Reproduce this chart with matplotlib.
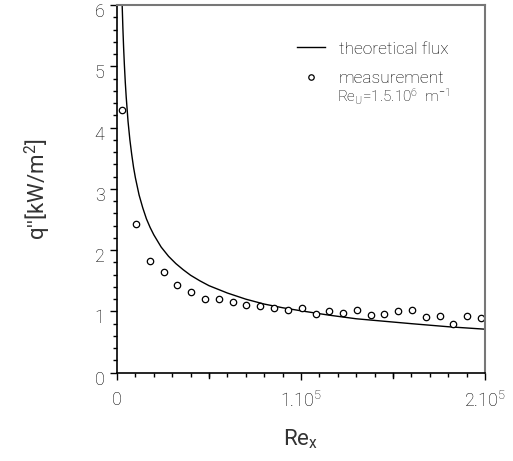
import matplotlib
matplotlib.use("Agg")
import matplotlib.pyplot as plt
import matplotlib.transforms as mtransforms
from matplotlib.ticker import MultipleLocator, FixedLocator

plt.rcParams["font.family"] = ["Roboto", "DejaVu Sans"]
plt.rcParams["font.weight"] = "light"
plt.rcParams["mathtext.default"] = "regular"

# measured heat flux along the plate
re_meas = [2900, 10300, 17900, 25400, 32800, 40400, 48000, 55400, 62900,
           70300, 77900, 85300, 92900, 100400, 108000, 115400, 122800,
           130400, 137900, 145300, 152900, 160300, 167900, 175400, 182800,
           190400, 197800]
q_meas = [4.29, 2.43, 1.82, 1.64, 1.43, 1.31, 1.21, 1.21, 1.15, 1.10, 1.09,
          1.05, 1.02, 1.05, 0.95, 1.01, 0.97, 1.03, 0.94, 0.96, 1.00, 1.02,
          0.91, 0.92, 0.79, 0.93, 0.90]

# theoretical flux curve
re_theory = [2800, 3200, 3600, 4000, 4500, 5000, 6000, 7000, 8000, 9000,
             10000, 12000, 14000, 16000, 18000, 20000, 24000, 28000, 32000,
             36000, 40000, 45000, 50000, 60000, 70000, 80000, 90000, 100000,
             115000, 130000, 145000, 160000, 180000, 200000]
q_theory = [6.01, 5.62, 5.30, 5.03, 4.74, 4.50, 4.10, 3.80, 3.56, 3.35,
            3.18, 2.90, 2.69, 2.51, 2.37, 2.25, 2.05, 1.90, 1.78, 1.68,
            1.59, 1.50, 1.42, 1.30, 1.20, 1.12, 1.06, 1.01, 0.94, 0.88,
            0.84, 0.80, 0.75, 0.71]

x_ticks = [0, 100000, 200000]
x_ticklabels = ["0", "1.10$^5$", "2.10$^5$"]

text_col = "black"

fig = plt.figure(figsize=(5.13, 4.61), dpi=100)
ax = fig.add_axes([117 / 513, 1 - 372.7 / 461, 368 / 513, 367.7 / 461])

ax.plot(re_theory, q_theory, color="black", lw=1.0, label="theoretical flux")
ax.plot(re_meas, q_meas, linestyle="none", marker="o", ms=4.6,
        mfc="white", mec="black", mew=0.9, label="measurement")

ax.set_xlim(0, 200000)
ax.set_ylim(0, 6)

ax.xaxis.set_major_locator(FixedLocator(x_ticks))
ax.set_xticklabels(x_ticklabels)
ax.xaxis.set_minor_locator(MultipleLocator(10000))
ax.yaxis.set_major_locator(MultipleLocator(1))
ax.yaxis.set_minor_locator(MultipleLocator(0.2))

# longer ticks at the half way marks on x
for xv in [50000, 150000]:
    ax.plot([xv, xv], [0, -0.08], color="black", lw=1.0, clip_on=False)

ax.tick_params(which="major", direction="out", length=5, width=1.0,
               labelsize=13, labelcolor=text_col, pad=4)
ax.tick_params(which="minor", direction="out", length=3, width=1.0)
ax.tick_params(axis="x", which="major", pad=8)

# nudge y tick labels slightly downward
shift = mtransforms.ScaledTranslation(0, -0.05, fig.dpi_scale_trans)
for lbl in ax.get_yticklabels():
    lbl.set_transform(lbl.get_transform() + shift)

for side in ["top", "right"]:
    ax.spines[side].set_color("#777777")
    ax.spines[side].set_linewidth(1.5)
for side in ["left", "bottom"]:
    ax.spines[side].set_color("black")
    ax.spines[side].set_linewidth(1.2)

ax.set_xlabel("Re$_x$", fontsize=16, color="#333333", labelpad=12)
ax.set_ylabel("q''[kW/m$^2$]", fontsize=16, color="#333333", labelpad=30)

leg = ax.legend(loc="upper left", bbox_to_anchor=(0.47, 0.92), frameon=False,
                fontsize=12.5, handlelength=1.6, handletextpad=0.8,
                labelspacing=0.85, borderaxespad=0, markerscale=0.85)
for t in leg.get_texts():
    t.set_color(text_col)

ax.text(0.598, 0.75, "Re$_U$=1.5.10$^6$  m$^{-1}$", transform=ax.transAxes,
        fontsize=11, color=text_col, va="center", ha="left")

fig.savefig("out.png", dpi=100)
